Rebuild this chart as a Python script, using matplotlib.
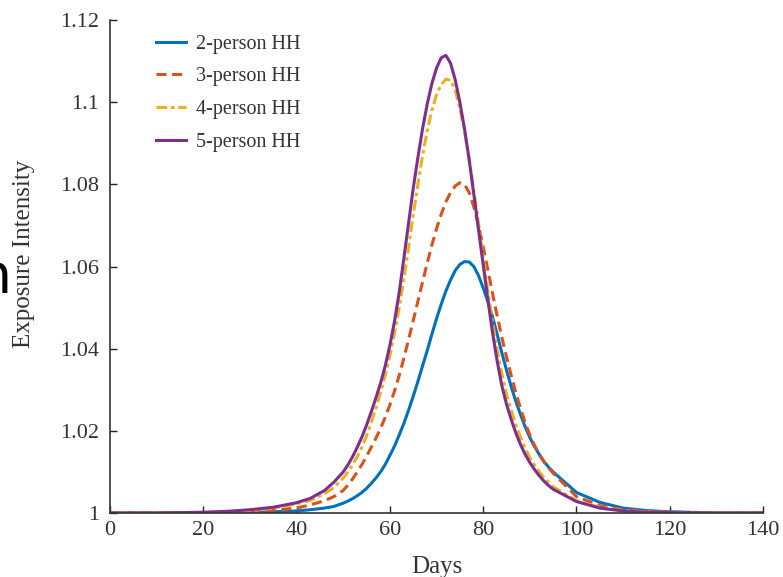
import matplotlib
matplotlib.use('Agg')
import matplotlib.pyplot as plt

days = [0, 10, 20, 25, 30, 35, 40, 43, 46, 48,
        50, 51, 52, 53, 54, 55, 56, 57, 58, 59,
        60, 61, 62, 63, 64, 65, 66, 67, 68, 69,
        70, 71, 72, 73, 74, 75, 76, 77, 78, 79,
        80, 81, 82, 83, 84, 85, 86, 87, 88, 89,
        90, 91, 92, 93, 94, 95, 100, 105, 110, 115, 120, 130, 140]

hh2 = [1.0000, 1.0000, 1.0000, 1.0000, 1.0001, 1.0003, 1.0005, 1.0008, 1.0012, 1.0016,
       1.0024, 1.0029, 1.0035, 1.0042, 1.0050, 1.0060, 1.0072, 1.0085, 1.0100, 1.0118,
       1.0140, 1.0163, 1.0190, 1.0218, 1.0250, 1.0284, 1.0320, 1.0358, 1.0395, 1.0435,
       1.0473, 1.0508, 1.0540, 1.0567, 1.0590, 1.0605, 1.0612, 1.0611, 1.0600, 1.0578,
       1.0548, 1.0515, 1.0478, 1.0435, 1.0390, 1.0348, 1.0308, 1.0272, 1.0240, 1.0210,
       1.0184, 1.0162, 1.0143, 1.0126, 1.0112, 1.0100, 1.0050, 1.0026, 1.0012, 1.0006,
       1.0003, 1.0000, 1.0000]

hh3 = [1.0000, 1.0001, 1.0001, 1.0002, 1.0004, 1.0007, 1.0012, 1.0020, 1.0030, 1.0040,
       1.0055, 1.0068, 1.0083, 1.0100, 1.0118, 1.0138, 1.0160, 1.0182, 1.0206, 1.0233,
       1.0263, 1.0297, 1.0335, 1.0377, 1.0422, 1.0468, 1.0515, 1.0562, 1.0608, 1.0652,
       1.0692, 1.0727, 1.0757, 1.0780, 1.0796, 1.0804, 1.0800, 1.0780, 1.0745, 1.0700,
       1.0648, 1.0592, 1.0535, 1.0480, 1.0428, 1.0380, 1.0335, 1.0293, 1.0255, 1.0220,
       1.0190, 1.0165, 1.0143, 1.0125, 1.0110, 1.0097, 1.0040, 1.0018, 1.0008, 1.0004,
       1.0002, 1.0000, 1.0000]

hh4 = [1.0000, 1.0000, 1.0001, 1.0003, 1.0006, 1.0012, 1.0022, 1.0031, 1.0047, 1.0062,
       1.0085, 1.0100, 1.0117, 1.0137, 1.0160, 1.0188, 1.0220, 1.0255, 1.0293, 1.0335,
       1.0383, 1.0438, 1.0500, 1.0570, 1.0645, 1.0725, 1.0800, 1.0870, 1.0930, 1.0980,
       1.1018, 1.1043, 1.1056, 1.1054, 1.1030, 1.0985, 1.0930, 1.0860, 1.0785, 1.0705,
       1.0622, 1.0540, 1.0465, 1.0398, 1.0340, 1.0290, 1.0250, 1.0215, 1.0185, 1.0158,
       1.0135, 1.0117, 1.0101, 1.0087, 1.0075, 1.0064, 1.0030, 1.0014, 1.0006, 1.0003,
       1.0001, 1.0000, 1.0000]

hh5 = [1.0000, 1.0000, 1.0002, 1.0004, 1.0008, 1.0014, 1.0025, 1.0036, 1.0055, 1.0075,
       1.0100, 1.0117, 1.0137, 1.0160, 1.0185, 1.0214, 1.0246, 1.0280, 1.0316, 1.0358,
       1.0408, 1.0467, 1.0537, 1.0620, 1.0705, 1.0790, 1.0865, 1.0935, 1.0995, 1.1045,
       1.1083, 1.1108, 1.1114, 1.1095, 1.1055, 1.1000, 1.0935, 1.0860, 1.0775, 1.0690,
       1.0605, 1.0520, 1.0440, 1.0370, 1.0310, 1.0265, 1.0228, 1.0195, 1.0167, 1.0143,
       1.0123, 1.0106, 1.0091, 1.0078, 1.0067, 1.0058, 1.0028, 1.0012, 1.0005, 1.0002,
       1.0001, 1.0000, 1.0000]

labels = ['2-person HH', '3-person HH', '4-person HH', '5-person HH']
x_ticks = [0, 20, 40, 60, 80, 100, 120, 140]
y_ticks = [1, 1.02, 1.04, 1.06, 1.08, 1.1, 1.12]
y_tick_labels = ['1', '1.02', '1.04', '1.06', '1.08', '1.1', '1.12']

plt.rcParams['font.family'] = ['Liberation Serif', 'DejaVu Serif']

fig = plt.figure(figsize=(7.83, 5.77), dpi=100)
ax = fig.add_axes([0.1405, 0.1109, 0.834, 0.8544])

ax.plot(days, hh2, color='#0072BD', lw=2.2, label=labels[0])
ax.plot(days, hh3, color='#D95319', lw=2.2, ls=(0, (3.3, 1.8)), label=labels[1])
ax.plot(days, hh4, color='#EDB120', lw=2.2, ls=(0, (3.5, 1.2, 1.2, 1.2)), label=labels[2])
ax.plot(days, hh5, color='#7E2F8E', lw=2.2, label=labels[3])

ax.set_xlim(0, 140)
ax.set_ylim(1, 1.12)
ax.set_xticks(x_ticks)
ax.set_yticks(y_ticks)
ax.set_yticklabels(y_tick_labels)
ax.tick_params(direction='in', length=5, width=1, labelsize=16, color='#222222',
               labelcolor='#333333')
ax.tick_params(axis='y', pad=8)
ax.tick_params(axis='x', pad=6)
for s in ['top', 'right']:
    ax.spines[s].set_visible(False)
for s in ['left', 'bottom']:
    ax.spines[s].set_color('#333333')
    ax.spines[s].set_linewidth(1.2)

ax.set_xlabel('Days', fontsize=18, color='#333333', labelpad=11)
ax.set_ylabel('Exposure Intensity', fontsize=18, color='#333333')
ax.yaxis.set_label_coords(-0.115, 0.525)

ax.legend(loc='upper left', bbox_to_anchor=(0.042, 1.007), frameon=False, fontsize=14.5,
          handlelength=1.5, handletextpad=0.5, labelspacing=0.67, labelcolor='#333333')

# stray glyph at the left edge of the source slide
fig.text(12 / 783, 1 - 293 / 577, 'n', fontsize=40, ha='right', va='baseline',
         family='DejaVu Sans', color='black')

fig.savefig('out.png', dpi=100)
